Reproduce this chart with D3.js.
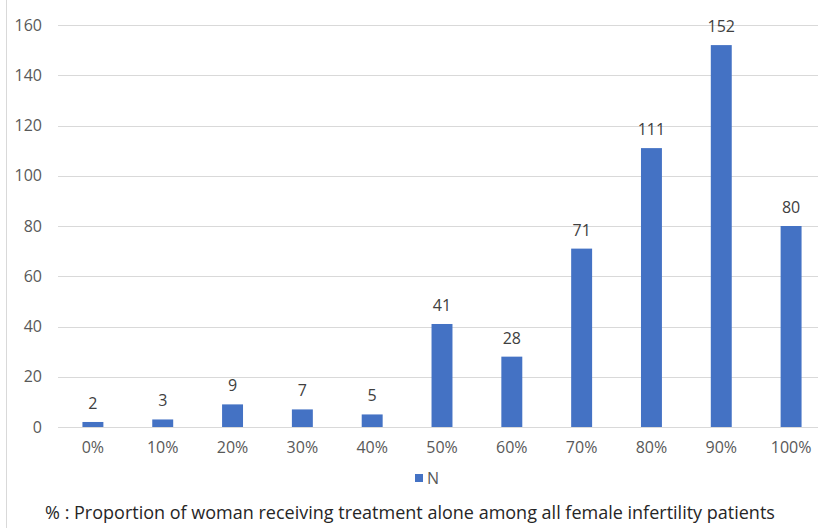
<!DOCTYPE html>
<html>
<head>
<meta charset="utf-8">
<script src="https://cdn.jsdelivr.net/npm/d3@7"></script>
<style>
  html, body { margin: 0; padding: 0; background: #fff; }
  svg { display: block; font-family: "Open Sans", "Noto Sans", sans-serif; }
</style>
</head>
<body>
<svg id="chart" width="818" height="528"></svg>
<script>
// Share of women treated alone, and number of clinics in each bin
const categories = ["0%", "10%", "20%", "30%", "40%", "50%", "60%", "70%", "80%", "90%", "100%"];
const counts = [2, 3, 9, 7, 5, 41, 28, 71, 111, 152, 80];
const yTicks = [0, 20, 40, 60, 80, 100, 120, 140, 160];
const seriesName = "N";
const caption = "% : Proportion of woman receiving treatment alone among all female infertility patients";

const svg = d3.select("#chart");
const barColor = "#4472C4";
const textColor = "#595959";
const fontStack = "'Open Sans', 'Noto Sans', sans-serif";

const x = d3.scaleBand().domain(categories).range([58, 826]).paddingInner(0.7).paddingOuter(0.35);
const y = d3.scaleLinear().domain([0, 160]).range([427, 25]);

// left frame line
svg.append("line").attr("x1", 6.5).attr("x2", 6.5).attr("y1", 0).attr("y2", 528)
  .attr("stroke", "#d9d9d9").attr("stroke-width", 1);

// horizontal gridlines
svg.append("g").selectAll("line").data(yTicks.slice(1)).join("line")
  .attr("x1", 58).attr("x2", 818)
  .attr("y1", d => Math.round(y(d)) + 0.5).attr("y2", d => Math.round(y(d)) + 0.5)
  .attr("stroke", "#d9d9d9").attr("stroke-width", 1);

// y axis labels
const yAxis = d3.axisLeft(y).tickValues(yTicks).tickSize(0).tickPadding(0);
svg.append("g").attr("transform", "translate(42,0)").call(yAxis)
  .call(g => g.select(".domain").remove())
  .call(g => g.selectAll("text").attr("fill", textColor).style("font-size", "16px")
    .attr("font-family", fontStack));

// bars
svg.append("g").selectAll("rect").data(counts).join("rect")
  .attr("x", (d, i) => x(categories[i]))
  .attr("width", x.bandwidth())
  .attr("y", d => y(d))
  .attr("height", d => y(0) - y(d))
  .attr("fill", barColor);

// baseline
svg.append("line").attr("x1", 58).attr("x2", 818)
  .attr("y1", Math.round(y(0)) + 0.5).attr("y2", Math.round(y(0)) + 0.5)
  .attr("stroke", "#d9d9d9").attr("stroke-width", 1);

// value labels
svg.append("g").selectAll("text").data(counts).join("text")
  .attr("x", (d, i) => x(categories[i]) + x.bandwidth() / 2)
  .attr("y", d => y(d) - 13)
  .attr("text-anchor", "middle")
  .attr("fill", "#404040")
  .style("font-size", "16px")
  .text(d => d);

// x axis labels
const xAxis = d3.axisBottom(x).tickSize(0).tickPadding(0);
svg.append("g").attr("transform", "translate(0,442)").call(xAxis)
  .call(g => g.select(".domain").remove())
  .call(g => g.selectAll("text").attr("fill", textColor).style("font-size", "16px")
    .attr("font-family", fontStack));

// legend
const legend = svg.append("g").attr("transform", "translate(415,474)");
legend.append("rect").attr("x", 0).attr("y", 0).attr("width", 8).attr("height", 8).attr("fill", barColor);
legend.append("text").attr("x", 12).attr("y", 10).attr("fill", textColor).style("font-size", "16px").text(seriesName);

// caption
svg.append("text").attr("x", 410).attr("y", 519).attr("text-anchor", "middle")
  .attr("fill", "#262626").style("font-size", "18px").text(caption);
</script>
</body>
</html>
